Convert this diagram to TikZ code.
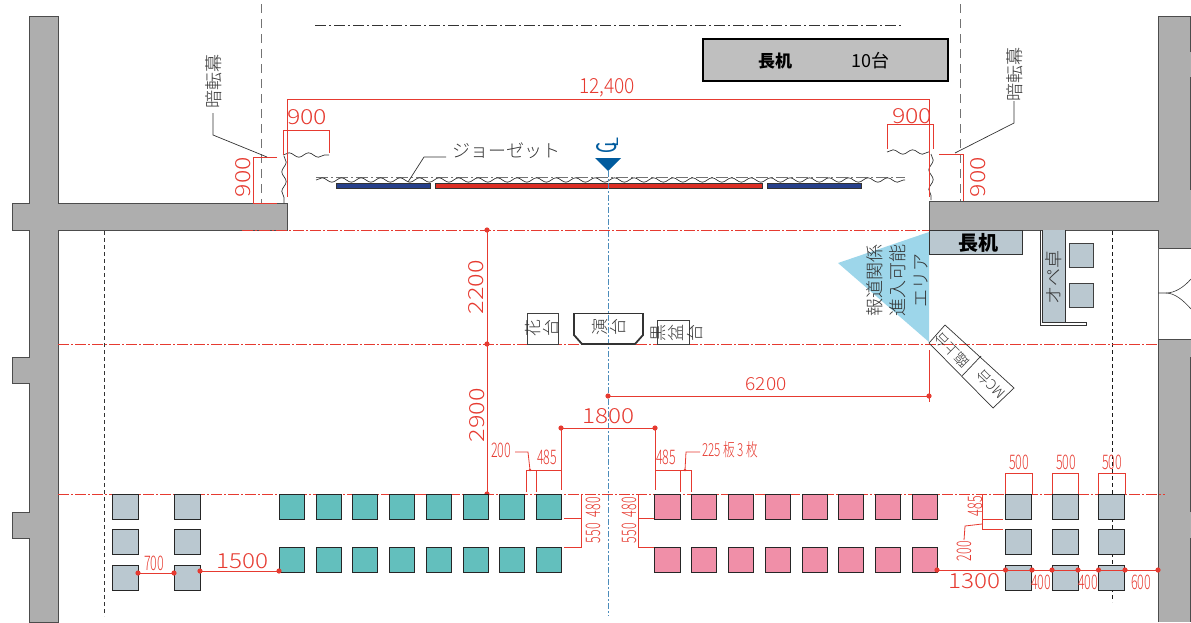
\documentclass[tikz,border=0pt]{standalone}
\usepackage{fontspec}
\usepackage{graphicx}
\usetikzlibrary{decorations.pathmorphing}
\setmainfont{Noto Sans CJK JP Light}
\newfontfamily\jpreg{Noto Sans CJK JP}
\definecolor{rd}{HTML}{E63A30}
\definecolor{wallc}{HTML}{AEAEAE}
\definecolor{grayseat}{HTML}{BAC8D0}
\definecolor{teal2}{HTML}{63BFBD}
\definecolor{pink2}{HTML}{F08FA8}
\definecolor{bl}{HTML}{005B9E}
\definecolor{trianglec}{HTML}{9DD6EA}
\definecolor{navy2}{HTML}{27408B}
\definecolor{red2}{HTML}{DC2E24}
\newcommand{\dn}[3]{\resizebox{#1pt}{#2pt}{#3}}
\newcommand{\sn}[1]{\resizebox{20pt}{14.5pt}{#1}}
\tikzset{
  wall/.style={fill=wallc,draw=black!70,line width=0.9pt},
  seat/.style={draw=black!85,line width=0.9pt},
  dim/.style={draw=rd,line width=0.8pt},
  center red/.style={draw=rd,line width=0.9pt,dash pattern=on 11pt off 2pt on 2pt off 2pt},
  dimtext/.style={text=rd,inner sep=0pt,font=\fontsize{16}{16}\selectfont},
  smalltext/.style={text=rd,inner sep=0pt,font=\fontsize{15}{15}\selectfont},
  jtext/.style={inner sep=0pt,text=black!80},
  wave/.style={draw=black!80,line width=0.7pt,decorate,decoration={snake,segment length=19.5pt,amplitude=2.2pt}}
}
\begin{document}
\begin{tikzpicture}[x=1pt,y=-1pt]
\useasboundingbox (0,0) rectangle (1191,622);
% walls
\draw[wall] (29,16) -- (58,16) -- (58,203) -- (287,203) -- (287,230) -- (58,230) -- (58,622) -- (29,622) -- (29,538) -- (12,538) -- (12,512) -- (29,512) -- (29,383) -- (12,383) -- (12,357) -- (29,357) -- (29,230) -- (12,230) -- (12,203) -- (29,203) -- cycle;
\fill[wallc] (1158,16) rectangle (1191,248);
\fill[wallc] (929,201) rectangle (1158,230);
\fill[wallc] (1158,339) rectangle (1191,622);
\draw[wall,fill=none] (1191,248) -- (1158,248) -- (1158,230) -- (929,230) -- (929,201) -- (1158,201) -- (1158,16) -- (1191,16);
\draw[wall,fill=none] (1191,339) -- (1158,339) -- (1158,622);
\draw[black!60,line width=0.9pt] (1158,248) -- (1158,339);
\draw[black!70,line width=0.8pt] (1190.5,16) -- (1190.5,52) (1190.5,77) -- (1190.5,190) (1190.5,357) -- (1190.5,512) (1190.5,538) -- (1190.5,622);
% door
\draw[black!80,line width=0.6pt] (1158,293) -- (1166,293) .. controls (1175,293) and (1184,287) .. (1191,279);
\draw[black!80,line width=0.6pt] (1166,293) .. controls (1175,293) and (1184,301) .. (1191,309);
% grid dashes
\draw[black!55,line width=1pt,dash pattern=on 9pt off 6pt] (261,4) -- (261,203);
\draw[black!55,line width=1pt,dash pattern=on 9pt off 6pt] (960,4) -- (960,201);
\draw[black!80,line width=0.7pt,dash pattern=on 4pt off 3pt] (104.5,231) -- (104.5,616);
\draw[black!90,line width=0.7pt,dash pattern=on 4pt off 3pt] (1112,231) -- (1112,602);
\draw[black!80,line width=0.8pt,dash pattern=on 11pt off 3pt on 2pt off 3pt] (315,25) -- (903,25);
% title
\node[rectangle,draw=black,line width=1.2pt,fill=black!25,minimum width=245pt,minimum height=42pt,inner sep=0pt] (title) at (825.5,60) {};
\node[inner sep=0pt,font=\jpreg\bfseries\fontsize{17}{17}\selectfont,text=black] (t1) at (775,61) {長机};
\node[inner sep=0pt,font=\jpreg\fontsize{18}{18}\selectfont,text=black] (t2) at (870,61) {10台};
% triangle
\fill[trianglec] (929,232) -- (838,263) -- (929,342) -- cycle;
% red center lines
\draw[center red] (242,230.5) -- (929,230.5);
\draw[center red] (58,344) -- (1158,344);
\draw[center red] (58,494) -- (1165,494);
% side desks
\draw[black!80,fill=grayseat,line width=0.8pt] (929,230) rectangle (1022,254);
\node[inner sep=0pt,font=\jpreg\bfseries\fontsize{20}{20}\selectfont,text=black] (nk) at (978,243) {長机};
\fill[grayseat] (1042,230) rectangle (1065,322);
\draw[black!80,line width=0.7pt] (1040,230) -- (1040,325) -- (1086,325) -- (1086,322) -- (1042,322) -- (1042,230) (1065,230) -- (1065,322);
\node[jtext,rotate=90,font=\fontsize{18}{18}\selectfont] (op) at (1054,277) {オペ卓};
\foreach \yy in {243,283}{\draw[black!75,fill=grayseat,line width=0.8pt] (1069,\yy) rectangle ++(24,24);}
% press text
\node[jtext,rotate=90,align=center,font=\fontsize{18}{23}\selectfont] (press) at (897,280) {報道関係\\進入可能\\エリア};
% joset
\draw[black!55,line width=0.8pt,dash pattern=on 12pt off 3pt on 2pt off 3pt] (316,177) -- (905,177);
\draw[wave] (316,180) -- (905,180);
\draw[black!80,fill=navy2,line width=0.6pt] (336,183) rectangle (430,188);
\draw[black!80,fill=navy2,line width=0.6pt] (767,183) rectangle (861,188);
\draw[black!80,fill=red2,line width=0.6pt] (435,183) rectangle (762,188);
\draw[black!80,line width=0.7pt] (408,182) -- (424,157) -- (446,157);
\node[jtext,anchor=west,font=\fontsize{18}{18}\selectfont] (jo) at (452,151) {ジョーゼット};
% curtains
\draw[wave] (283,155) -- (329,155);
\draw[wave] (284,156) -- (284,203);
\draw[wave] (887,152) -- (929,152);
\draw[wave] (931,154) -- (931,200);
% dims top
\draw[dim] (287,197) -- (287,99) -- (929,99) -- (929,197);
\node[dimtext] (d124) at (607,88) {\dn{56}{15}{12,400}};
\draw[dim] (283,155) -- (283,130) -- (329,130) -- (329,153);
\node[dimtext] (d900a) at (307,117) {\dn{40}{15}{900}};
\draw[dim] (887,149) -- (887,124) -- (933,124) -- (933,149);
\node[dimtext] (d900b) at (912,116) {\dn{40}{15}{900}};
\draw[dim] (277,157) -- (253,157) -- (253,203) -- (277,203);
\node[dimtext,rotate=90] (d900c) at (243,177) {\dn{40}{15}{900}};
\draw[dim] (939,154) -- (963,154) -- (963,201);
\node[dimtext,rotate=90] (d900d) at (978,177) {\dn{40}{15}{900}};
% curtain labels
\node[jtext,rotate=90,font=\fontsize{18}{18}\selectfont] (an1) at (214,81) {暗転幕};
\draw[black!80,line width=0.7pt] (213,113) -- (213,135) -- (267,157);
\node[jtext,rotate=90,font=\fontsize{18}{18}\selectfont] (an2) at (1015,74) {暗転幕};
\draw[black!80,line width=0.7pt] (1014,101) -- (1014,123) -- (955,153);
% centre mark
\draw[bl!70!white,line width=1pt,dash pattern=on 6pt off 2pt on 2pt off 2pt] (608,171) -- (608,616);
\fill[bl] (595,158) -- (621,158) -- (608,171) -- cycle;
\node[inner sep=0pt,text=bl,rotate=90,font=\jpreg] (cl1) at (607,147.5) {\resizebox{11pt}{20pt}{C}};
\node[inner sep=0pt,text=bl,rotate=90,font=\jpreg] (cl2) at (612,142) {\resizebox{10pt}{13pt}{L}};
% lecterns
\draw[black!75,line width=0.8pt] (527,313) rectangle (558,344);
\draw[black!75,line width=0.8pt] (657,320) rectangle (689,344);
\draw[black!80,line width=0.8pt] (574,313) -- (643,313);
\draw[black!80,line width=1.8pt] (574,313) -- (574,335) -- (582,344) -- (635,344) -- (643,335) -- (643,313);
\foreach \cx/\cy/\ch in {533/328/花,551/328/台,600/327/演,618/327/台,658/333/黒,676/333/盆,695/333/台}{
  \node[jtext,rotate=90,font=\fontsize{17}{17}\selectfont] at (\cx,\cy) {\ch};
}
% diagonal tables
\draw[black!80,line width=0.7pt] (945,325) -- (929,343) -- (993,408) -- (1014,388) -- cycle;
\draw[black!80,line width=0.7pt] (981,356) -- (962,376);
\node[jtext,rotate=135,font=\fontsize{14}{14}\selectfont] (mc) at (991,384) {MC台};
\node[jtext,rotate=135,font=\fontsize{14}{14}\selectfont] (rin) at (952,350) {臨上台};
% dims middle
\draw[dim] (487,230) -- (487,494);
\foreach \p in {(487,230),(487,344),(487,494),(608,396),(929,396),(561,428),(655,428)}{\fill[rd] \p circle (2.6pt);}
\node[dimtext,rotate=90] (d2200) at (476,287) {\dn{54}{15}{2200}};
\node[dimtext,rotate=90] (d2900) at (477,415) {\dn{54}{15}{2900}};
\draw[dim] (608,396) -- (929,396);
\draw[dim] (929,350) -- (929,402);
\node[dimtext] (d6200) at (766,384) {\dn{41}{13}{6200}};
\draw[dim] (561,490) -- (561,428) -- (655,428) -- (655,490);
\node[dimtext] (d1800) at (608,416) {\dn{52}{15}{1800}};
% 485 pairs
\draw[dim] (526,492) -- (526,470) -- (561,470);
\draw[dim] (536,492) -- (536,470);
\draw[dim] (655,470) -- (691,470) -- (691,492);
\draw[dim] (680,470) -- (680,492);
\node[smalltext] (l200) at (501,450) {\sn{200}};
\node[smalltext] (l485a) at (547,457) {\sn{485}};
\node[smalltext] (l485b) at (666,457) {\sn{485}};
\node[smalltext,anchor=west] (l225) at (702,450) {\dn{56}{15}{225 板 3 枚}};
\draw[dim] (515,452) -- (528,452) -- (530,470);
\draw[dim] (700,452) -- (686,452) -- (685,470);
\fill[rd] (530,470) circle (1.3pt) (685,470) circle (1.3pt);
% 480/550
\draw[dim] (581,494) -- (581,547) -- (564,547);
\draw[dim] (581,518.5) -- (564,518.5);
\draw[dim] (638,494) -- (638,547) -- (654,547);
\draw[dim] (638,518.5) -- (654,518.5);
\node[smalltext,rotate=90] (a480) at (593,507) {\sn{480}};
\node[smalltext,rotate=90] (a550) at (593,533) {\sn{550}};
\node[smalltext,rotate=90] (b480) at (629,507) {\sn{480}};
\node[smalltext,rotate=90] (b550) at (629,533) {\sn{550}};
% seats
\foreach \xx in {279,316,352,389,426,463,499,536}{
  \foreach \yy in {494,547}{\draw[seat,fill=teal2] (\xx,\yy) rectangle ++(25.5,25.5);}
}
\foreach \xx in {654.5,691,728,765,802,838,875,912}{
  \foreach \yy in {494,547}{\draw[seat,fill=pink2] (\xx,\yy) rectangle ++(25.5,25.5);}
}
\foreach \xx in {112,174,1005.5,1052,1098.5}{
  \foreach \yy in {494,529,565}{\draw[seat,fill=grayseat] (\xx,\yy) rectangle ++(26,25.5);}
}
% bottom dims
\draw[dim,line width=1pt] (138,573) -- (174,573);
\draw[dim,line width=1pt] (200,571) -- (279,571);
\draw[dim,line width=1pt] (937,570) -- (1158,570);
\foreach \p in {(138,573),(174,573),(200,571),(279,571),(937,570),(1005.5,570),(1032,570),(1052,570),(1078,570),(1098.5,570),(1125,570),(1158,570)}{\fill[rd] \p circle (2.6pt);}
\node[smalltext] (l700) at (154,563) {\sn{700}};
\node[dimtext] (l1500) at (242,561) {\dn{52}{15}{1500}};
\node[dimtext] (l1300) at (974,581) {\dn{52}{15}{1300}};
\node[smalltext] (l400a) at (1041,582) {\sn{400}};
\node[smalltext] (l400b) at (1088,582) {\sn{400}};
\node[smalltext] (l600) at (1141,582) {\sn{600}};
\foreach \xa/\xb in {1005.5/1032,1052/1078,1098.5/1125}{\draw[dim] (\xa,494) -- (\xa,473) -- (\xb,473) -- (\xb,494);}
\node[smalltext] (u1) at (1019,462) {\sn{500}};
\node[smalltext] (u2) at (1066,462) {\sn{500}};
\node[smalltext] (u3) at (1112,462) {\sn{500}};
\draw[dim] (982,494) -- (982,529) -- (1003,529);
\draw[dim] (982,519) -- (1003,519);
\node[smalltext,rotate=90] (r485) at (975,506) {\sn{485}};
\draw[dim] (982,524) -- (965,526) -- (964,540);
\node[smalltext,rotate=90] (r200) at (964,551) {\sn{200}};
\end{tikzpicture}
\end{document}
